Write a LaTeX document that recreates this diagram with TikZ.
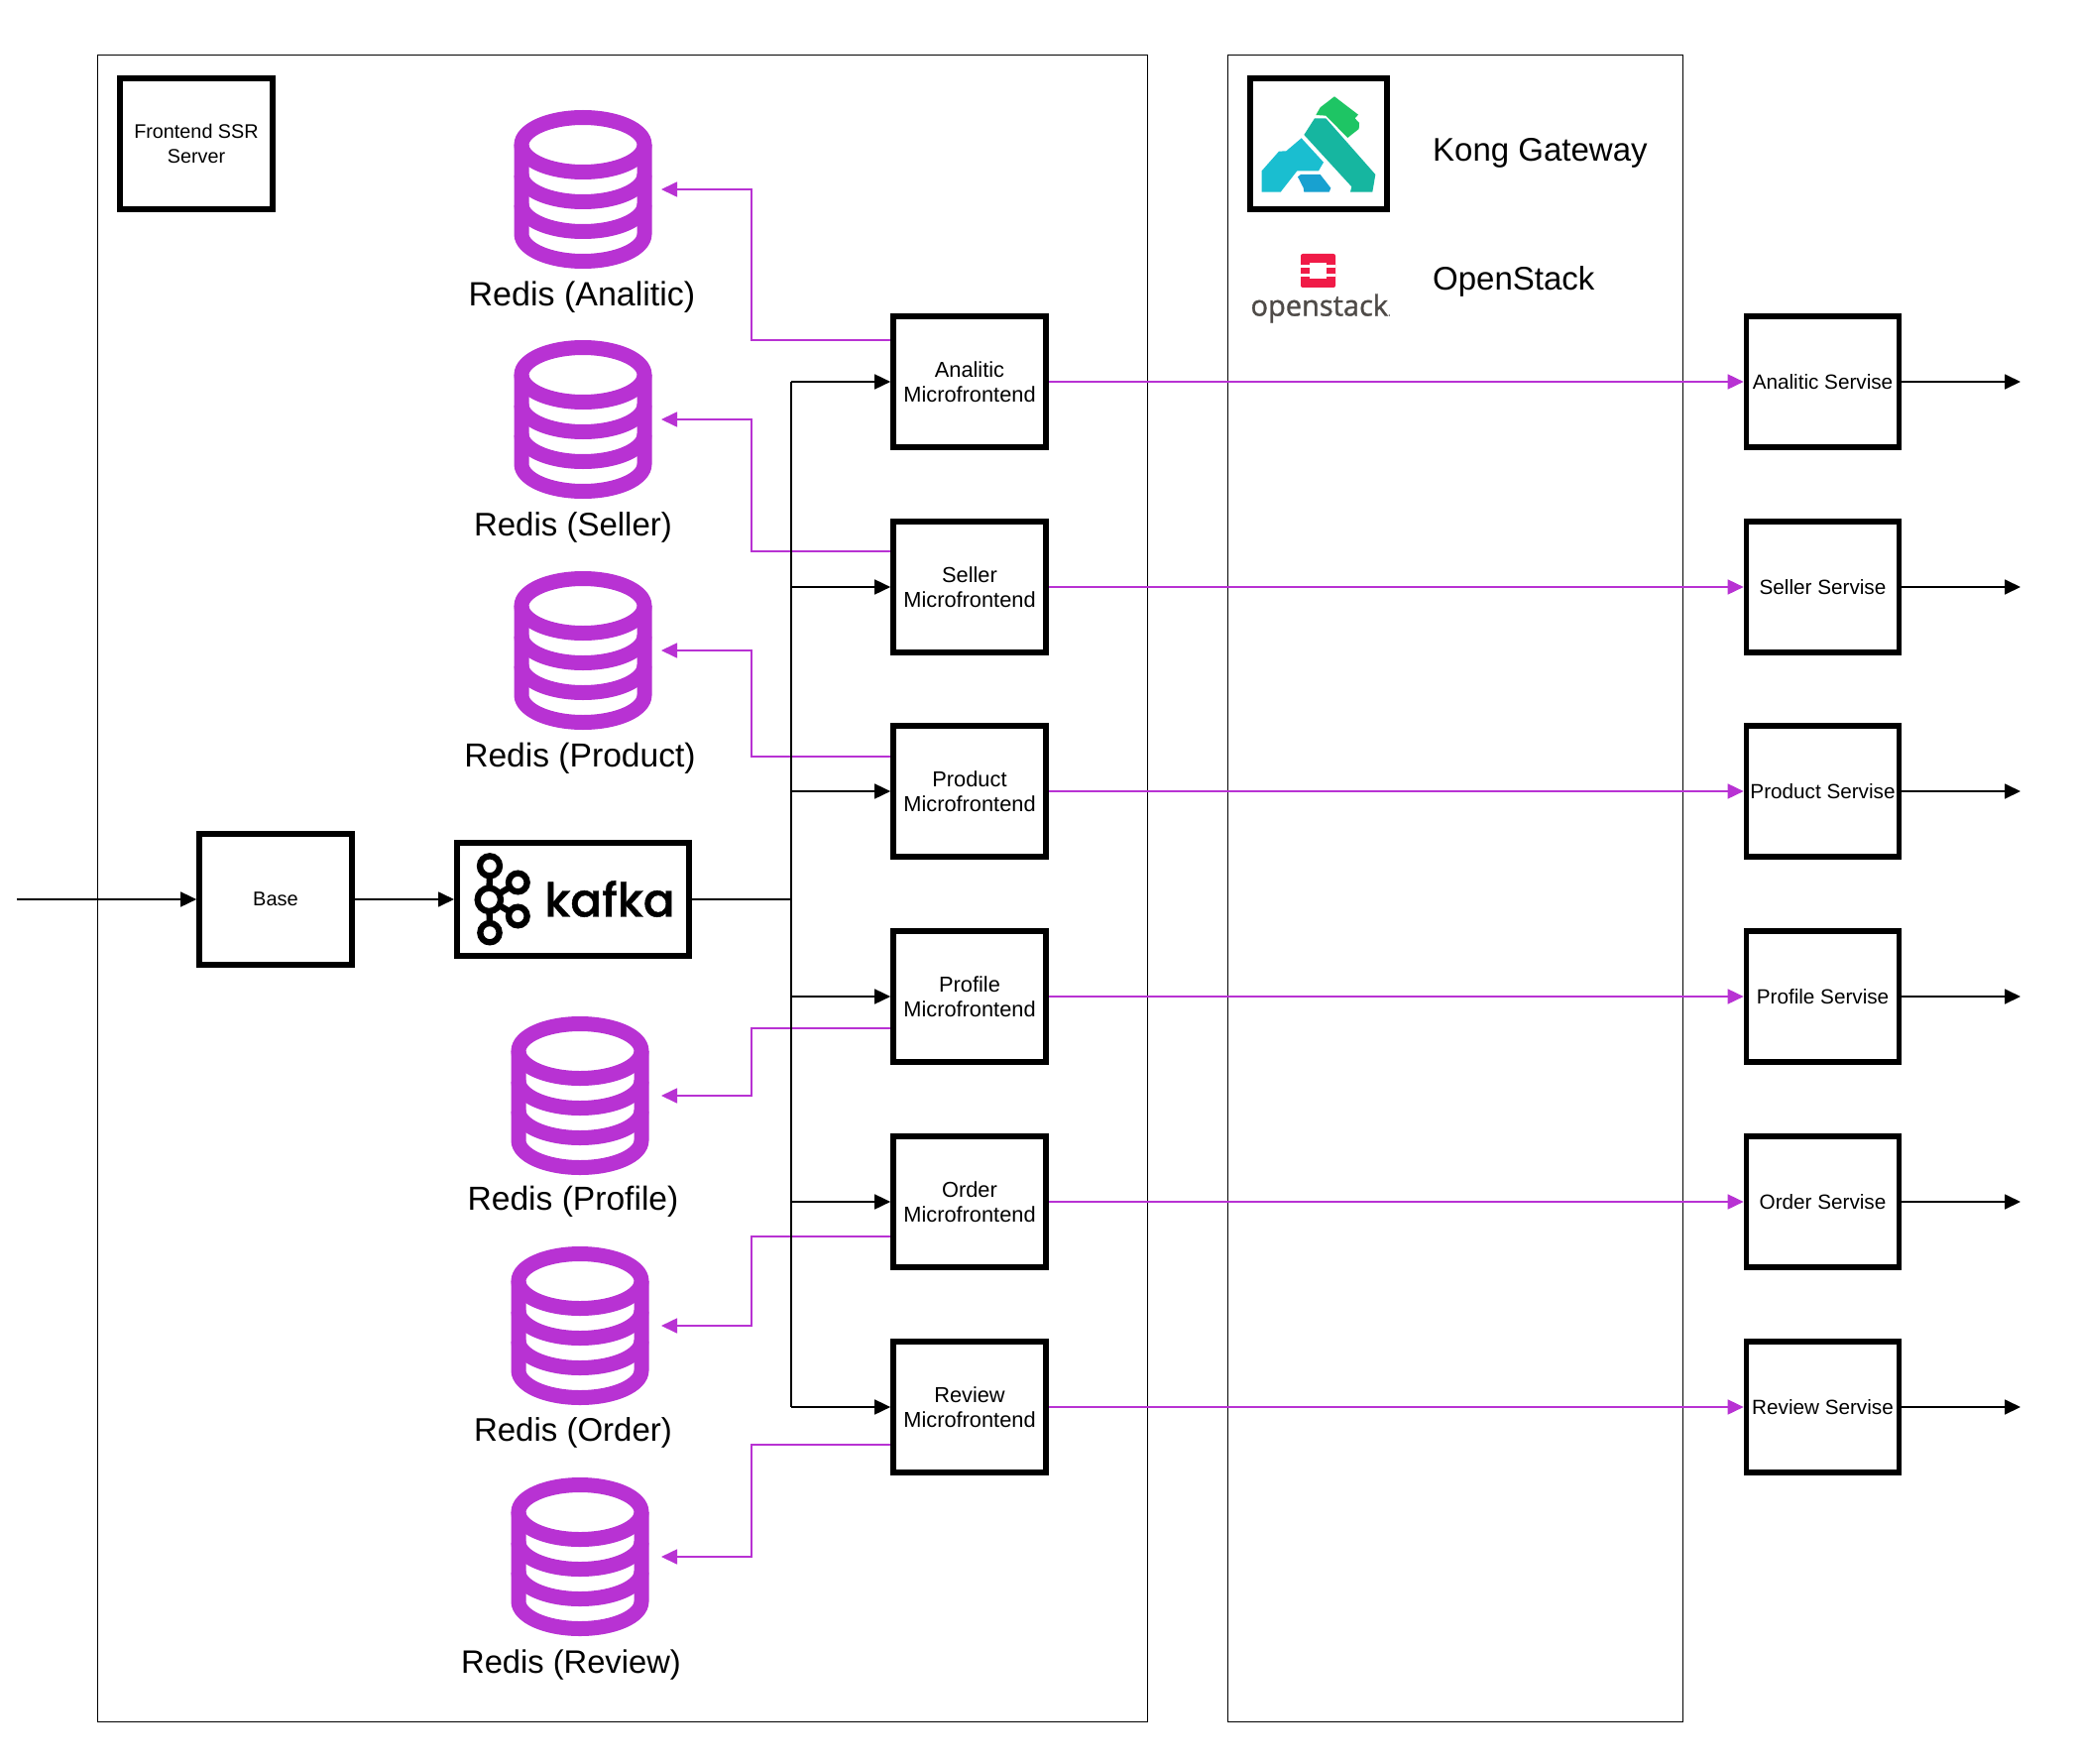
\documentclass[tikz,border=0pt]{standalone}
\usepackage{fontspec}
\usetikzlibrary{arrows.meta}
\setmainfont{Liberation Sans}
\newfontfamily\kaf[FakeBold=0.8]{Poppins Medium}
\newfontfamily\ost[FakeBold=1.2]{Open Sans}
\definecolor{pur}{HTML}{B832D3}
\definecolor{osred}{HTML}{F01B47}
\definecolor{osgray}{HTML}{4E4A47}
\definecolor{kgreen}{RGB}{30,197,100}
\definecolor{kteal}{RGB}{22,182,160}
\definecolor{kcyan}{RGB}{26,190,208}
\definecolor{kblue}{RGB}{24,161,208}
\tikzset{
 x=1pt,y=-1pt,
 frame/.style={draw=black,line width=1pt,fill=none,inner sep=0pt},
 bx/.style={draw=black,line width=5.7pt,fill=white,minimum width=154pt,minimum height=132pt,inner sep=0pt,align=center,font=\fontsize{20.7}{25.4}\selectfont,anchor=center},
 blk/.style={draw=black,line width=1.7pt,-{Triangle[length=16pt,width=15pt]}},
 prp/.style={draw=pur,line width=1.7pt,-{Triangle[length=16pt,width=15pt,fill=pur]}},
 big/.style={inner sep=0pt},
 redisicon/.pic={
  \draw[pur,line width=15pt] (0,-45) ellipse [x radius=62,y radius=27.5];
  \draw[pur,line width=15pt,line cap=butt] (-62,-45) -- (-62,45) arc[start angle=180,end angle=0,x radius=62,y radius=27.5] -- (62,-45);
  \draw[pur,line width=15pt] (-62,-15) arc[start angle=180,end angle=0,x radius=62,y radius=27.5];
  \draw[pur,line width=15pt] (-62,15) arc[start angle=180,end angle=0,x radius=62,y radius=27.5];
 }
}
\begin{document}
\begin{tikzpicture}
\path[use as bounding box] (0,0) rectangle (2098,1779);
\fill[white] (0,0) rectangle (2098,1779);
\node[frame,minimum width=1059pt,minimum height=1680pt] (fe) at (627.5,896) {};
\node[frame,minimum width=459pt,minimum height=1680pt] (gw) at (1467.5,896) {};
\node[bx,font=\fontsize{19.8}{25.4}\selectfont] (ssr) at (198,145) {Frontend SSR\\Server};
\node[bx,minimum width=138pt,minimum height=132pt] (kong) at (1330,145) {};
\begin{scope}[shift={(1230,50)},x=0.3333pt,y=-0.3333pt]
\fill[kgreen] (292,198)--(305,175)--(348,142)--(420,197)--(410,208)--(423,222)--(422,240)--(388,267)--(322,200)--cycle;
\fill[kteal] (288,208)--(322,208)--(472,378)--(463,431)--(396,431)--(400,415)--(256,258)--cycle;
\fill[kcyan] (248,268)--(315,341)--(300,367)--(235,367)--(185,431)--(128,431)--(128,367)--(180,308)--(202,307)--cycle;
\fill[kblue] (237,385)--(246,378)--(305,378)--(337,419)--(332,431)--(256,431)--(254,418)--cycle;
\end{scope}
\node[big,font=\fontsize{33}{40}\selectfont,anchor=west] (kongt) at (1445,154) {Kong Gateway};
\node[big,font=\fontsize{33}{40}\selectfont,anchor=west] (ost) at (1445,284) {OpenStack};
% openstack logo
\fill[osred,rounded corners=2pt] (1312,256) rectangle (1347,290);
\fill[white] (1321,265) rectangle (1338,281);
\fill[white] (1312,267.5) rectangle (1322,270);
\fill[white] (1312,276.5) rectangle (1322,279);
\fill[white] (1337,267.5) rectangle (1347,270);
\fill[white] (1337,276.5) rectangle (1347,279);
\node[inner sep=0pt,text=osgray,font=\ost\fontsize{29}{36}\selectfont] (ostxt) at (1332,311) {openstack\fontsize{9}{9}\selectfont.};
% redis
\foreach \n/\x/\y/\t/\lx/\ly/\fs in {ra/588/191/Redis (Analitic)/587/300/34,rs/588/423/Redis (Seller)/578/532/33,rp/588/656/Redis (Product)/585/765/33.6,rf/585/1105/Redis (Profile)/578/1212/33.6,ro/585/1337/Redis (Order)/578/1445/33,rv/585/1570/Redis (Review)/576/1679/32.7}{
 \pic at (\x,\y) {redisicon};
 \node[big,font=\fontsize{\fs}{40}\selectfont] (l\n) at (\lx,\ly) {\t};
 \coordinate (\n) at (667,\y);
}
% base, kafka
\node[bx,font=\fontsize{20}{25.4}\selectfont] (base) at (278,907) {Base};
\node[bx,minimum width=234.3pt,minimum height=114.3pt] (kafka) at (578,907) {};
\begin{scope}[shift={(440,830)},x=0.3333pt,y=-0.3333pt]
\draw[black,line width=6.3pt] (162,130)--(160,232)--(162,332) (160,232)--(247,180) (160,232)--(247,282);
\foreach \cx/\cy/\r in {162/130/30,160/232/35,247/180/28,247/282/28,162/332/29}{
 \draw[black,line width=6.3pt,fill=white] (\cx,\cy) circle (\r);
}
\end{scope}
\node[inner sep=0pt,font=\kaf\fontsize{47}{60}\selectfont] (kt) at (615,906.5) {kafka};
\coordinate (inp) at (17,907);
\draw[blk] (inp) -- (base);
\draw[blk] (base) -- (kafka);
\coordinate (busm) at (798,907);
\draw[black,line width=1.7pt] (kafka) -- (busm);
% micro + services
\foreach \n/\y/\t/\s/\rd/\py in {a/385/Analitic/Analitic Servise/ra/343,b/592/Seller/Seller Servise/rs/556,c/798/Product/Product Servise/rp/763,d/1005/Profile/Profile Servise/rf/1037,e/1212/Order/Order Servise/ro/1247,f/1419/Review/Review Servise/rv/1457}{
 \node[bx,font=\fontsize{21.8}{25.4}\selectfont] (m\n) at (978,\y) {\t\\Microfrontend};
 \node[bx] (s\n) at (1838.5,\y) {\s};
 \coordinate (o\n) at (2038,\y);
 \coordinate (t\n) at (798,\y);
 \coordinate (p\n) at (898,\py);
 \draw[blk] (s\n) -- (o\n);
 \draw[prp] (m\n) -- (s\n);
 \draw[blk] (t\n) -- (m\n);
 \draw[prp] (p\n) -- (758,\py) |- (\rd);
}
\draw[black,line width=1.7pt] (ta) -- (tf);
\end{tikzpicture}
\end{document}
